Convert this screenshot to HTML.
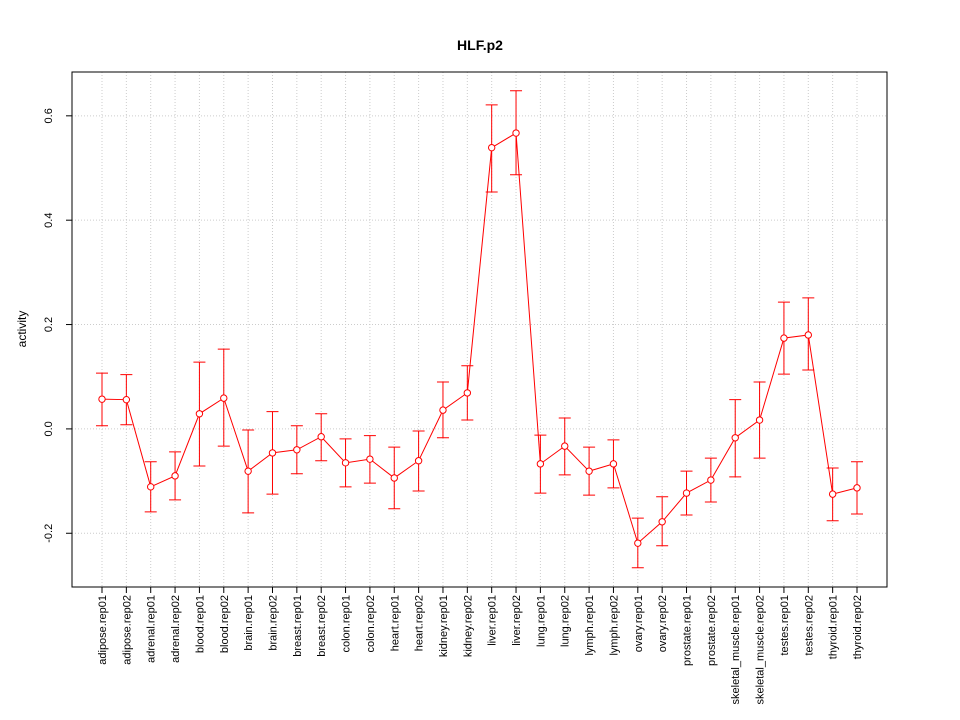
<!DOCTYPE html>
<html><head><meta charset="utf-8"><style>body{margin:0;background:#fff}svg{display:block;font-family:"Liberation Sans",sans-serif}</style></head>
<body>
<svg id="chart" width="960" height="720" xmlns="http://www.w3.org/2000/svg">
<rect width="960" height="720" fill="#fff"/>
<text x="480" y="50" text-anchor="middle" font-size="14" font-weight="bold">HLF.p2</text>
<text transform="translate(26,329) rotate(-90)" text-anchor="middle" font-size="12">activity</text>
<g id="grid"></g><g id="axes"></g><g id="marks"></g>
</svg>
<script>
const categories=["adipose.rep01","adipose.rep02","adrenal.rep01","adrenal.rep02","blood.rep01","blood.rep02","brain.rep01","brain.rep02","breast.rep01","breast.rep02","colon.rep01","colon.rep02","heart.rep01","heart.rep02","kidney.rep01","kidney.rep02","liver.rep01","liver.rep02","lung.rep01","lung.rep02","lymph.rep01","lymph.rep02","ovary.rep01","ovary.rep02","prostate.rep01","prostate.rep02","skeletal_muscle.rep01","skeletal_muscle.rep02","testes.rep01","testes.rep02","thyroid.rep01","thyroid.rep02"];
const values=[0.057,0.056,-0.111,-0.090,0.029,0.059,-0.081,-0.046,-0.040,-0.015,-0.065,-0.058,-0.094,-0.061,0.036,0.069,0.539,0.567,-0.067,-0.033,-0.081,-0.067,-0.219,-0.178,-0.123,-0.098,-0.017,0.017,0.174,0.180,-0.125,-0.113];
const upper=[0.107,0.104,-0.063,-0.044,0.128,0.153,-0.002,0.033,0.006,0.029,-0.019,-0.013,-0.035,-0.004,0.090,0.121,0.621,0.648,-0.012,0.021,-0.035,-0.021,-0.171,-0.130,-0.081,-0.056,0.056,0.090,0.243,0.251,-0.075,-0.063];
const lower=[0.006,0.008,-0.159,-0.136,-0.071,-0.033,-0.161,-0.125,-0.086,-0.061,-0.111,-0.104,-0.153,-0.119,-0.017,0.017,0.454,0.487,-0.123,-0.088,-0.127,-0.113,-0.266,-0.224,-0.165,-0.140,-0.092,-0.056,0.105,0.113,-0.176,-0.163];
const yTicks=[-0.2,0.0,0.2,0.4,0.6];
const yTickLabels=["-0.2","0.0","0.2","0.4","0.6"];
const NS="http://www.w3.org/2000/svg";
const L=72,R=887,T=72,B=587,yMin=-0.303,yMax=0.684;
const xS=i=>102+i*(857-102)/(categories.length-1);
const yS=v=>B-(v-yMin)/(yMax-yMin)*(B-T);
function mk(p,t,a){const e=document.createElementNS(NS,t);for(const k in a)e.setAttribute(k,a[k]);p.appendChild(e);return e;}
const grid=document.getElementById('grid'),axes=document.getElementById('axes'),marks=document.getElementById('marks');
categories.forEach((c,i)=>{const g=mk(grid,'line',{x1:xS(i),x2:xS(i),y1:T,y2:B,stroke:'#ccc','stroke-dasharray':'1,2'});


const tk=mk(axes,'line',{x1:xS(i),x2:xS(i),y1:B,y2:B+6,stroke:'#000'});


const t=mk(axes,'text',{transform:`translate(${xS(i)+4},${B+8}) rotate(-90)`,'text-anchor':'end','font-size':'11'});t.textContent=c;

});
yTicks.forEach((v,i)=>{const g=mk(grid,'line',{x1:L,x2:R,y1:yS(v),y2:yS(v),stroke:'#ccc','stroke-dasharray':'1,2'});


const tk=mk(axes,'line',{x1:L-6,x2:L,y1:yS(v),y2:yS(v),stroke:'#000'});


const t=mk(axes,'text',{transform:`translate(${L-20},${yS(v)}) rotate(-90)`,'text-anchor':'middle','font-size':'11'});t.textContent=yTickLabels[i];

});
const box=mk(axes,'rect',{x:L,y:T,width:R-L,height:B-T,fill:'none',stroke:'#000'});


const line=mk(marks,'polyline',{points:values.map((v,i)=>xS(i)+','+yS(v)).join(' '),fill:'none',stroke:'#f00'});


values.forEach((v,i)=>{const x=xS(i);
const eb=mk(marks,'path',{d:`M${x},${yS(lower[i])}V${yS(upper[i])}M${x-6},${yS(upper[i])}H${x+6}M${x-6},${yS(lower[i])}H${x+6}`,stroke:'#f00',fill:'none'});


const c=mk(marks,'circle',{cx:x,cy:yS(v),r:3.2,fill:'#fff',stroke:'#f00'});

});
</script>
</body></html>
